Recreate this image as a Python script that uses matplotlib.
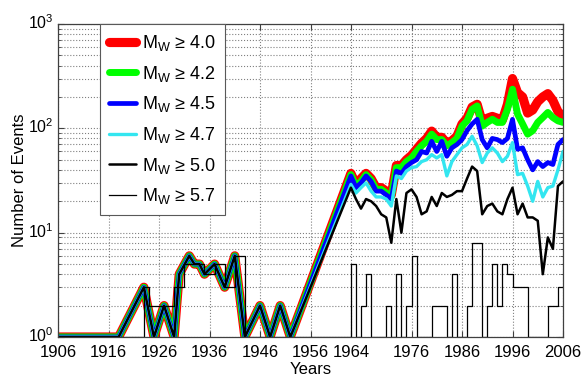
import matplotlib
matplotlib.use('Agg')
import matplotlib.pyplot as plt
import matplotlib.transforms as mtransforms
from matplotlib.ticker import LogLocator, NullFormatter, NullLocator

plt.rcParams['font.family'] = ['Liberation Sans', 'DejaVu Sans']
plt.rcParams['mathtext.fontset'] = 'custom'
plt.rcParams['mathtext.rm'] = 'Liberation Sans'
plt.rcParams['mathtext.it'] = 'Liberation Sans:italic'

# ---- data ----
years_early = [1906, 1918, 1923, 1925, 1927, 1929, 1930, 1932, 1933, 1934, 1935,
               1937, 1939, 1941, 1943, 1946, 1948, 1950, 1952]
counts_early = [1, 1, 3, 1, 2, 1, 4, 6, 5, 5, 4, 5, 3, 6, 1, 2, 1, 2, 1]

years_late = list(range(1964, 2007))
m40 = [37, 29, 33, 37, 33, 27, 27, 25, 23,
       44, 44, 50, 55, 63, 72, 80, 94, 82, 82, 72, 76, 84,
       110, 125, 160, 170, 115, 125, 130, 125, 120, 170, 300, 220, 200, 140, 150,
       180, 200, 215, 185, 145, 130]
m42 = [36, 28, 31, 36, 32, 26, 26, 24, 22,
       42, 42, 48, 52, 60, 68, 75, 88, 78, 78, 68, 73, 80,
       105, 118, 152, 164, 105, 114, 122, 114, 114, 152, 237, 137, 110, 88, 95,
       114, 127, 142, 127, 118, 114]
m45 = [35, 27, 30, 35, 31, 25, 25, 23, 21,
       39, 37, 43, 47, 50, 60, 58, 75, 60, 75, 54, 65, 70,
       78, 95, 110, 122, 78, 65, 80, 78, 73, 80, 122, 63, 65, 50, 40,
       48, 43, 47, 45, 70, 78]
m47 = [29, 24, 27, 30, 25, 22, 22, 21, 18,
       35, 33, 39, 42, 43, 48, 50, 56, 52, 56, 35, 48, 56,
       65, 70, 84, 68, 47, 58, 65, 58, 48, 54, 73, 36, 37, 28, 20,
       31, 22, 27, 28, 40, 60]
m50 = [27, 21, 17, 21, 20, 18, 15, 14, 8,
       21, 10, 24, 26, 22, 15, 16, 22, 18, 24, 22, 23, 25,
       25, 33, 43, 39, 15, 18, 19, 16, 15, 21, 27, 15, 19, 14, 14,
       13, 4, 9, 7, 28, 31]

years57_early = [1906, 1923, 1924, 1929, 1931, 1933, 1935, 1937, 1939, 1941, 1943]
counts57_early = [1, 3, 2, 3, 5, 5, 4, 5, 3, 6, 1]
m57 = [5, 1, 2, 4, 1, 1, 1, 2, 1, 4,
       1, 2, 6, 1, 1, 1, 2, 2, 2, 1,
       4, 1, 1, 2, 8, 8, 1, 2, 5, 2,
       5, 4, 3, 3, 3, 1, 1, 1, 1, 2,
       2, 3, 3]

labels = [r'$\mathregular{M_W}$ ≥ 4.0', r'$\mathregular{M_W}$ ≥ 4.2',
          r'$\mathregular{M_W}$ ≥ 4.5', r'$\mathregular{M_W}$ ≥ 4.7',
          r'$\mathregular{M_W}$ ≥ 5.0', r'$\mathregular{M_W}$ ≥ 5.7']
xticks = [1906, 1916, 1926, 1936, 1946, 1956, 1964, 1976, 1986, 1996, 2006]

series = [m40, m42, m45, m47, m50]
colors = ['#ff0000', '#00ff00', '#0000ff', '#33e6f0', '#000000']
widths = [6.6, 5.0, 3.4, 2.4, 1.8]

fig = plt.figure(figsize=(5.85, 3.81), dpi=100)
ax = fig.add_axes([58 / 585, 1 - 337 / 381, 505 / 585, 313 / 381])

yrs = years_early + years_late
for s, c, w, lab in zip(series, colors, widths, labels):
    ax.plot(yrs, counts_early + s, color=c, lw=w, label=lab,
            solid_joinstyle='round', solid_capstyle='round')
ax.step(years57_early + years_late, counts57_early + m57, where='post',
        color='black', lw=0.9, label=labels[5])

ax.set_yscale('log')
ax.set_ylim(1, 1000)
ax.set_xlim(1906, 2006)
ax.set_xticks(xticks)
ax.set_xticklabels([str(t) for t in xticks])
ax.xaxis.set_minor_locator(NullLocator())
ax.yaxis.set_minor_locator(LogLocator(base=10, subs=range(2, 10)))
ax.yaxis.set_minor_formatter(NullFormatter())

gkw = dict(linestyle=':', color='#808080', linewidth=0.8)
ax.grid(which='major', axis='x', **gkw)
ax.grid(which='both', axis='y', **gkw)
ax.set_axisbelow(True)

ax.tick_params(which='major', direction='in', top=True, right=True,
               length=4, color='0.25')
ax.tick_params(axis='x', which='major', labelsize=12, pad=6)
ax.tick_params(axis='y', which='major', labelsize=11.5, pad=3)
ax.tick_params(which='minor', direction='in', right=True, length=2, color='0.25')
for sp in ax.spines.values():
    sp.set_color('0.25')
    sp.set_linewidth(0.9)

# nudge the y tick labels slightly upward (superscript style as in reference)
fig.canvas.draw()
shift = mtransforms.ScaledTranslation(0, 3 / 100, fig.dpi_scale_trans)
for lbl in ax.get_yticklabels():
    lbl.set_transform(lbl.get_transform() + shift)

ax.set_xlabel('Years', fontsize=12, labelpad=1)
ax.set_ylabel('Number of Events', fontsize=12, labelpad=1)

leg = ax.legend(loc='upper left', bbox_to_anchor=(0.083, 1.0), borderaxespad=0,
                fontsize=13, handlelength=1.5, handletextpad=0.35,
                labelspacing=0.59, borderpad=0.5, fancybox=False,
                framealpha=1, edgecolor='0.35')
leg.get_frame().set_linewidth(0.8)

fig.savefig('out.png', dpi=100)
